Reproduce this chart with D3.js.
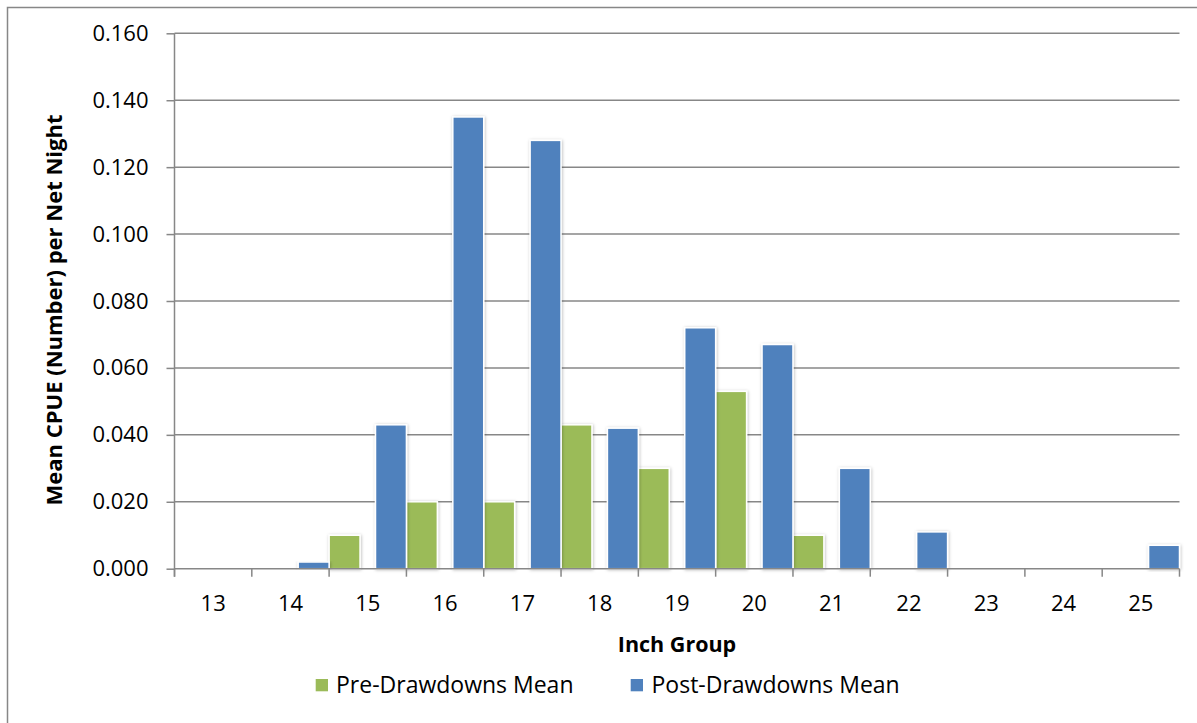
<!DOCTYPE html>
<html>
<head>
<meta charset="utf-8">
<script src="https://cdn.jsdelivr.net/npm/d3@7"></script>
<style>
  html, body { margin: 0; padding: 0; background: #fff; }
  svg { display: block; }
  text { font-family: "Open Sans", "Noto Sans", sans-serif; fill: #000; }
</style>
</head>
<body>
<svg id="chart" width="1197" height="723"></svg>
<script>
// ---- Data ----
const categories = ["13","14","15","16","17","18","19","20","21","22","23","24","25"];
const preMean  = [null, null, 0.010, 0.020, 0.020, 0.043, 0.030, 0.053, 0.010, null, null, null, null];
const postMean = [null, 0.002, 0.043, 0.135, 0.128, 0.042, 0.072, 0.067, 0.030, 0.011, null, null, 0.007];
const seriesNames = ["Pre-Drawdowns Mean", "Post-Drawdowns Mean"];
const seriesKeys = ["pre", "post"];
const seriesColors = ["#9BBB59", "#4F81BD"];
const yTicks = [0, 0.02, 0.04, 0.06, 0.08, 0.10, 0.12, 0.14, 0.16];
const yTitle = "Mean CPUE (Number) per Net Night";
const xTitle = "Inch Group";

// ---- Layout ----
const svg = d3.select("#chart");
const plotL = 174.5, plotR = 1179.5, plotT = 33.3, plotB = 568.7;
const gridColor = "#878787";

const x = d3.scaleBand().domain(categories).range([plotL, plotR]).padding(0);
const xs = d3.scaleBand().domain(seriesKeys).range([0, x.bandwidth()]).paddingInner(1/3).paddingOuter(0);
const y = d3.scaleLinear().domain([0, 0.16]).range([plotB, plotT]);

// defs: soft shadow
const defs = svg.append("defs");
const f = defs.append("filter").attr("id", "shadow").attr("x", "-30%").attr("y", "-10%").attr("width", "160%").attr("height", "120%");
f.append("feDropShadow").attr("dx", 0.6).attr("dy", 0.6).attr("stdDeviation", 1.6)
  .attr("flood-color", "#000").attr("flood-opacity", 0.28);

// outer chart border (only left/top visible in crop)
svg.append("path")
  .attr("d", "M7.5,730 L7.5,7.5 L1205,7.5")
  .attr("fill", "none").attr("stroke", gridColor).attr("stroke-width", 1.5);

// gridlines
svg.append("g").selectAll("line").data(yTicks.filter(d => d > 0)).join("line")
  .attr("x1", plotL).attr("x2", plotR)
  .attr("y1", d => y(d)).attr("y2", d => y(d))
  .attr("stroke", gridColor).attr("stroke-width", 1.5);

// y axis
const yAxis = svg.append("g").attr("transform", `translate(${plotL},0)`)
  .call(d3.axisLeft(y).tickValues(yTicks).tickFormat(d3.format(".3f")).tickSize(8).tickPadding(18));
yAxis.select(".domain").attr("stroke", gridColor).attr("stroke-width", 1.5)
  .attr("d", `M0,${plotT}V${plotB + 8}`);
yAxis.selectAll(".tick line").attr("stroke", gridColor).attr("stroke-width", 1.5);
yAxis.selectAll(".tick text").attr("font-size", 22).attr("font-family", "'Open Sans', sans-serif").attr("fill", "#000");

// bars
const data = categories.map((c, i) => ({ c, pre: preMean[i], post: postMean[i] }));
const barsG = svg.append("g");
seriesKeys.forEach((k, si) => {
  barsG.append("g").selectAll("rect")
    .data(data.filter(d => d[k] != null))
    .join("rect")
    .attr("x", d => x(d.c) + xs(k))
    .attr("width", xs.bandwidth())
    .attr("y", d => y(d[k]))
    .attr("height", d => y(0) - y(d[k]))
    .attr("fill", seriesColors[si])
    .attr("stroke", "#fff").attr("stroke-width", 1.5)
    .attr("filter", "url(#shadow)");
});

// x axis (ticks at category boundaries)
const xAxisG = svg.append("g");
const boundaries = categories.map(c => x(c)).concat([plotR]);
xAxisG.append("line").attr("x1", plotL).attr("x2", plotR).attr("y1", plotB).attr("y2", plotB)
  .attr("stroke", gridColor).attr("stroke-width", 1.5);
xAxisG.selectAll("line.tk").data(boundaries).join("line").attr("class", "tk")
  .attr("x1", d => d).attr("x2", d => d).attr("y1", plotB).attr("y2", plotB + 8)
  .attr("stroke", gridColor).attr("stroke-width", 1.5);
xAxisG.selectAll("text").data(categories).join("text")
  .attr("x", d => x(d) + x.bandwidth() / 2)
  .attr("y", 611)
  .attr("text-anchor", "middle")
  .attr("font-size", 22)
  .text(d => d);

// axis titles
svg.append("text")
  .attr("transform", `translate(61.5,310) rotate(-90)`)
  .attr("text-anchor", "middle")
  .attr("font-size", 22).attr("font-weight", "bold")
  .text(yTitle);
svg.append("text")
  .attr("x", 677).attr("y", 651.5)
  .attr("text-anchor", "middle")
  .attr("font-size", 21.5).attr("font-weight", "bold")
  .text(xTitle);

// legend
const legendPos = [{ sx: 315.7, tx: 336 }, { sx: 630.7, tx: 651.5 }];
const lg = svg.append("g");
seriesNames.forEach((name, i) => {
  lg.append("rect").attr("x", legendPos[i].sx).attr("y", 679).attr("width", 12.3).attr("height", 12.3)
    .attr("fill", seriesColors[i]);
  lg.append("text").attr("x", legendPos[i].tx).attr("y", 692.5)
    .attr("font-size", 23).text(name);
});
</script>
</body>
</html>
